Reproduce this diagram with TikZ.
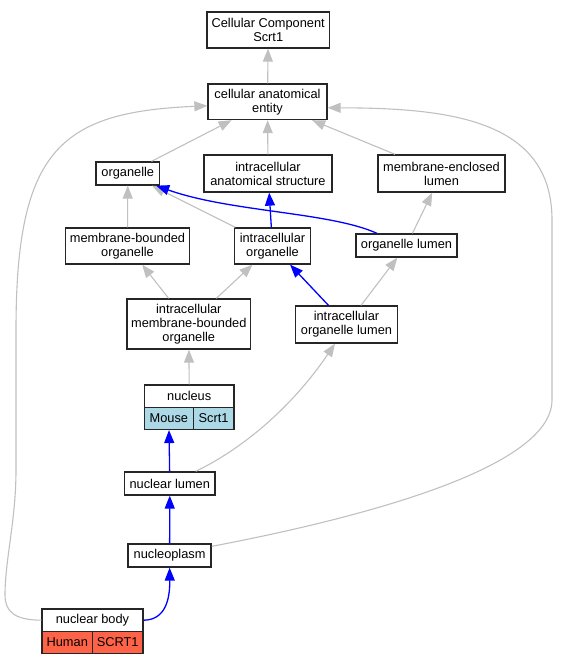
\documentclass[tikz,border=0pt]{standalone}
\usepackage{fontspec}
\setmainfont{Liberation Sans}
\usepackage{tikz}
\usetikzlibrary{
	arrows.meta
}

\definecolor{isagray}{RGB}{192,192,192}
\definecolor{mousecell}{RGB}{173,216,230}
\definecolor{humancell}{RGB}{255,99,71}
\newcommand{\termfont}{\fontsize{12.8}{14}\selectfont}

\begin{document}
\begin{tikzpicture}[x=1pt,y=-1pt,
	term/.style={draw=black!85,line width=1.3pt,inner sep=0pt,align=center,font=\termfont},
	isa/.style={draw=isagray,line width=1.1pt,-{Triangle[length=13pt,width=10pt]}},
	partof/.style={draw=blue,line width=1.3pt,-{Triangle[length=13pt,width=10pt]}}
]
		\useasboundingbox (0,0) rectangle (561,664);
		\draw
			node[term,minimum width=122.5,minimum height=36] (cc)   at (268.2,30)    {Cellular Component\\Scrt1}
			node[term,minimum width=119,minimum height=35.5] (cae)  at (267.5,101.8) {cellular anatomical\\entity}
			node[term,minimum width=63.5,minimum height=23]  (org)  at (127.8,173.5) {organelle}
			node[term,minimum width=128,minimum height=37]   (ias)  at (268,173.5)   {intracellular\\anatomical structure}
			node[term,minimum width=127,minimum height=37]   (mel)  at (441.5,173.5) {membrane-enclosed\\lumen}
			node[term,minimum width=124,minimum height=36]   (mbo)  at (127.5,246)   {membrane-bounded\\organelle}
			node[term,minimum width=76,minimum height=36]    (io)   at (272.5,246)   {intracellular\\organelle}
			node[term,minimum width=101,minimum height=23]   (ol)   at (406.5,245.5) {organelle lumen}
			node[term,minimum width=123.5,minimum height=50] (imbo) at (188.8,324)   {intracellular\\membrane-bounded\\organelle}
			node[term,minimum width=102,minimum height=37]   (iol)  at (346.5,324.5) {intracellular\\organelle lumen}
			node[term,minimum width=89.5,minimum height=22.5] (nuc) at (189.2,396.2) {nucleus}
			node[term,fill=mousecell,minimum width=48.7,minimum height=22] (nucm) at (168.85,418.4) {Mouse}
			node[term,fill=mousecell,minimum width=40.8,minimum height=22] (nucs) at (213.6,418.4)  {Scrt1}
			node[term,minimum width=90.5,minimum height=23]  (nl)   at (169.8,483.5) {nuclear lumen}
			node[term,minimum width=83,minimum height=23]    (np)   at (169.6,555.5) {nucleoplasm}
			node[term,minimum width=101,minimum height=22.5] (nb)   at (92.5,620.2)  {nuclear body}
			node[term,fill=humancell,minimum width=50.5,minimum height=22] (nbh) at (67.25,642.3)  {Human}
			node[term,fill=humancell,minimum width=50.5,minimum height=22] (nbs) at (117.75,642.3) {SCRT1}

			(cae)  edge[isa]    (cc)
			(org)  edge[isa]    (cae)
			(ias)  edge[isa]    (cae)
			(mel)  edge[isa]    (cae)
			(mbo)  edge[isa]    (org)
			(io)   edge[isa]    (org)
			(io)   edge[partof] (ias)
			(ol)   edge[isa]    (mel)
			(imbo) edge[isa]    (mbo)
			(imbo) edge[isa]    (io)
			(iol)  edge[partof] (io)
			(iol)  edge[isa]    (ol)
			(nuc)  edge[isa]    (imbo)
			(nl)   edge[partof] (nucm)
			(np)   edge[partof] (nl)
		;
		% long curved links
		\draw[partof] ([xshift=-29.5pt]ol.north) .. controls (330,212) and (230,212) .. ([xshift=-4pt]org.south east);
		\draw[isa] ([xshift=-20pt]nl.north east) .. controls (240,450) and (290,410) .. ([xshift=-11.5pt]iol.south);
		\draw[partof] (nb.east) .. controls (165,620) and (170,600) .. (np.south);
		\draw[isa] (nb.west) .. controls (15,620) and (5,612) .. (5,595) .. controls (5,560) and (16,520) .. (16,470)
			-- (16,330) .. controls (16,150) and (60,112) .. ([yshift=-4pt]cae.west);
		\draw[isa] ([yshift=-3pt]np.north east) .. controls (350,520) and (552,470) .. (552,400)
			-- (552,220) .. controls (552,120) and (450,108) .. ([yshift=-6pt]cae.east);
\end{tikzpicture}
\end{document}
